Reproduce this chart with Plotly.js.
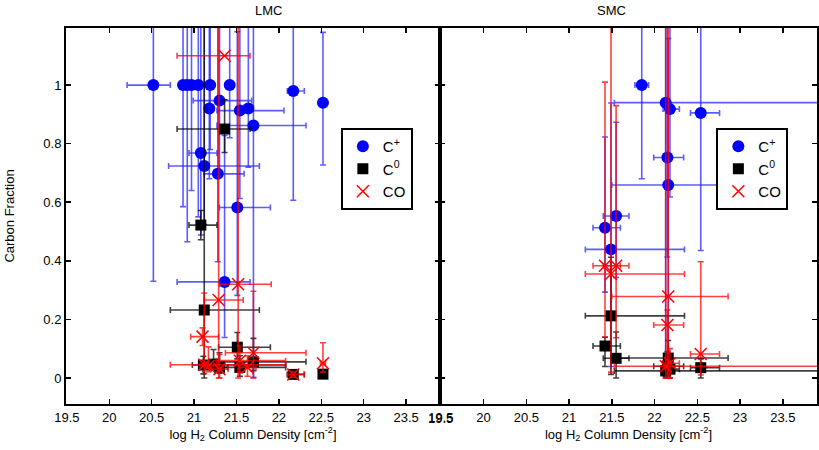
<!DOCTYPE html>
<html><head><meta charset="utf-8">
<script src="https://cdn.plot.ly/plotly-3.0.1.min.js"></script>
<style>html,body{margin:0;padding:0;background:#fff}</style>
</head><body>
<div id="chart" style="width:819px;height:450px"></div>
<script>
// Tick labels
const xTickVals = [19.5, 20, 20.5, 21, 21.5, 22, 22.5, 23, 23.5];
const xTickText = ["19.5","20","20.5","21","21.5","22","22.5","23","23.5"];
const yTickVals = [0, 0.2, 0.4, 0.6, 0.8, 1];
const yTickText = ["0","0.2","0.4","0.6","0.8","1"];

// ---------- LMC ----------
const lmcCpX  = [20.52,20.87,20.92,20.97,21.05,21.19,21.42,22.17,22.52,21.30,21.18,21.54,21.64,21.70,21.08,21.12,21.28,21.51,21.36];
const lmcCpY  = [1.00,1.00,1.00,1.00,1.00,1.00,1.00,0.98,0.94,0.947,0.92,0.913,0.92,0.862,0.768,0.724,0.697,0.582,0.328];
const lmcCpXm = [0.31,0.05,0.05,0.05,0.05,0.05,0.05,0.07,0.03,0.31,0.05,0.27,0.05,0.43,0.14,0.42,0.16,0.21,0.56];
const lmcCpXp = [0.20,0.05,0.05,0.05,0.05,0.05,0.05,0.13,0.03,0.38,0.05,0.52,0.05,0.62,0.19,0.65,0.31,0.39,0.30];
const lmcCpYm = [0.67,0.415,0.535,0.36,0.45,0.22,0.18,0.373,0.213,0.25,0.24,0.30,0.20,0.86,0.28,0.20,0.30,0.30,0.19];
const lmcCpYp = [0.5,0.5,0.5,0.5,0.5,0.5,0.5,0.5,0.24,0.5,0.3,0.3,0.3,0.5,0.5,0.5,0.5,0.6,0.5];

const lmcC0X  = [21.36,21.08,21.12,21.51,21.11,21.23,21.30,21.54,21.70,22.17,22.52];
const lmcC0Y  = [0.85,0.522,0.232,0.105,0.044,0.047,0.036,0.036,0.055,0.012,0.013];
const lmcC0Xm = [0.56,0.14,0.40,0.22,0.13,0.10,0.10,0.28,0.43,0.07,0.03];
const lmcC0Xp = [0.30,0.19,0.65,0.39,0.97,0.10,0.10,0.54,0.62,0.13,0.03];
const lmcC0Ym = [0.08,0.05,0.232,0.04,0.03,0.02,0.02,0.03,0.03,0.01,0.01];
const lmcC0Yp = [0.10,0.05,1.00,0.05,0.03,0.05,0.05,0.04,0.08,0.01,0.01];

const lmcCOX  = [21.36,21.52,21.29,21.10,21.70,22.52,21.12,21.17,21.30,21.54,21.63,22.17];
const lmcCOY  = [1.10,0.32,0.266,0.141,0.086,0.05,0.045,0.041,0.03,0.059,0.036,0.012];
const lmcCOXm = [0.56,0.22,0.17,0.14,0.33,0.03,0.40,0.10,0.10,0.28,0.10,0.07];
const lmcCOXp = [0.30,0.39,0.29,0.19,0.62,0.03,0.96,0.10,0.10,0.54,0.10,0.13];
const lmcCOYm = [0.0,0.32,0.266,0.03,0.086,0.03,0.03,0.02,0.03,0.04,0.03,0.01];
const lmcCOYp = [0.0,1.0,1.0,0.03,0.21,0.07,0.245,0.065,0.05,0.05,0.04,0.01];

// ---------- SMC ----------
const smcCpX  = [21.85,22.13,22.18,22.54,22.15,22.16,21.55,21.42,21.49];
const smcCpY  = [1.00,0.94,0.918,0.905,0.753,0.659,0.553,0.513,0.439];
const smcCpXm = [0.08,0.60,0.08,0.12,0.16,0.66,0.15,0.14,0.30];
const smcCpXp = [0.08,2.00,0.11,0.22,0.19,0.70,0.15,0.18,0.86];
const smcCpYm = [0.32,0.94,0.30,0.47,0.34,0.66,0.21,0.22,0.40];
const smcCpYp = [0.5,0.5,0.3,0.5,0.5,0.5,0.32,0.31,0.5];

const smcC0X  = [22.13,22.18,22.54,22.15,22.16,21.55,21.42,21.49];
const smcC0Y  = [0.024,0.03,0.035,0.04,0.068,0.067,0.109,0.212];
const smcC0Xm = [0.60,0.08,0.12,0.16,0.66,0.15,0.14,0.30];
const smcC0Xp = [2.00,0.11,0.22,0.19,0.70,0.15,0.18,0.86];
const smcC0Ym = [0.02,0.03,0.035,0.04,0.04,0.067,0.07,0.2];
const smcC0Yp = [0.02,0.03,0.03,0.05,0.06,0.09,0.03,0.2];

const smcCOX  = [22.13,22.18,22.54,22.15,22.16,21.55,21.42,21.49];
const smcCOY  = [0.04,0.05,0.082,0.181,0.278,0.383,0.383,0.355];
const smcCOXm = [0.60,0.08,0.12,0.16,0.66,0.15,0.14,0.30];
const smcCOXp = [2.00,0.11,0.22,0.19,0.70,0.15,0.18,0.86];
const smcCOYm = [0.04,0.05,0.072,0.181,0.278,0.246,0.243,0.335];
const smcCOYp = [1.2,0.05,0.315,0.051,1.0,0.547,0.627,1.0];

const FONT = "'Liberation Sans Narrow', 'Liberation Sans', Arial, sans-serif";

function series(name, x, y, xm, xp, ym, yp, style, xa, ya, leg) {
  return {
    type: 'scatter', mode: 'markers', name: name,
    x: x, y: y, xaxis: xa, yaxis: ya, legend: leg,
    marker: style.marker,
    error_x: {type:'data', symmetric:false, array:xp, arrayminus:xm, color:style.err, thickness:1.6, width:3},
    error_y: {type:'data', symmetric:false, array:yp, arrayminus:ym, color:style.err, thickness:1.6, width:3},
    cliponaxis: true
  };
}
const stCp = {marker:{symbol:'circle', size:12, color:'#0000ff'}, err:'rgba(30,30,255,0.72)'};
const stC0 = {marker:{symbol:'square', size:11, color:'#000000'}, err:'rgba(0,0,0,0.75)'};
const stCO = {marker:{symbol:'x-thin-open', size:12, color:'#ff0000', line:{color:'#ff0000', width:1.5}}, err:'rgba(255,0,0,0.75)'};

const data = [
  series('C<sup>+</sup>', lmcCpX, lmcCpY, lmcCpXm, lmcCpXp, lmcCpYm, lmcCpYp, stCp, 'x', 'y', 'legend'),
  series('C<sup>0</sup>', lmcC0X, lmcC0Y, lmcC0Xm, lmcC0Xp, lmcC0Ym, lmcC0Yp, stC0, 'x', 'y', 'legend'),
  series('CO', lmcCOX, lmcCOY, lmcCOXm, lmcCOXp, lmcCOYm, lmcCOYp, stCO, 'x', 'y', 'legend'),
  series('C<sup>+</sup>', smcCpX, smcCpY, smcCpXm, smcCpXp, smcCpYm, smcCpYp, stCp, 'x2', 'y2', 'legend2'),
  series('C<sup>0</sup>', smcC0X, smcC0Y, smcC0Xm, smcC0Xp, smcC0Ym, smcC0Yp, stC0, 'x2', 'y2', 'legend2'),
  series('CO', smcCOX, smcCOY, smcCOXm, smcCOXp, smcCOYm, smcCOYp, stCO, 'x2', 'y2', 'legend2')
];

const TF = {size:13, family:FONT, color:'#000'};
const xTitle = {text:'log H<sub>2</sub> Column Density [cm<sup>-2</sup>]', font:TF, standoff:6};
const axCommon = {
  showline:true, linecolor:'#000', linewidth:2, mirror:'ticks',
  ticks:'inside', ticklen:5, tickwidth:1.5, tickcolor:'#000',
  showgrid:false, zeroline:false, ticklabeloverflow:'allow',
  tickfont:TF
};

const layout = {
  width:819, height:450,
  margin:{l:66, r:2, t:28, b:46},
  paper_bgcolor:'#fff', plot_bgcolor:'#fff',
  font:{family:FONT, color:'#000'},
  xaxis: Object.assign({}, axCommon, {domain:[0,0.498], range:[19.49,23.9], tickvals:xTickVals, ticktext:xTickText, anchor:'y', title:xTitle}),
  xaxis2: Object.assign({}, axCommon, {domain:[0.498,1], range:[19.49,23.9], tickvals:xTickVals, ticktext:xTickText, anchor:'y2', title:xTitle}),
  yaxis: Object.assign({}, axCommon, {range:[-0.089,1.195], tickvals:yTickVals, ticktext:yTickText, anchor:'x',
         title:{text:'Carbon Fraction', font:TF, standoff:26}}),
  yaxis2: Object.assign({}, axCommon, {range:[-0.089,1.195], tickvals:yTickVals, anchor:'x2', showticklabels:false}),
  legend: {x:0.366, y:0.734, xanchor:'left', yanchor:'top', bgcolor:'#fff', bordercolor:'#000', borderwidth:2,
           font:{size:15, family:FONT, color:'#000'}, tracegroupgap:0, itemclick:false},
  legend2: {x:0.866, y:0.734, xanchor:'left', yanchor:'top', bgcolor:'#fff', bordercolor:'#000', borderwidth:2,
           font:{size:15, family:FONT, color:'#000'}, tracegroupgap:0, itemclick:false},
  showlegend:true,
  annotations:[
    {text:'LMC', xref:'paper', yref:'paper', x:0.249, y:1, yanchor:'bottom', yshift:8, showarrow:false, font:TF},
    {text:'SMC', xref:'paper', yref:'paper', x:0.749, y:1, yanchor:'bottom', yshift:8, showarrow:false, font:TF},
    // first tick label of the SMC axis (Plotly drops it where the panels meet)
    {text:xTickText[0], xref:'x2', yref:'paper', x:xTickVals[0], y:0, yanchor:'top', yshift:-5, showarrow:false, font:TF, bgcolor:'rgba(0,0,0,0)'}
  ]
};

Plotly.newPlot('chart', data, layout, {displayModeBar:false, staticPlot:true});
</script>
</body></html>
